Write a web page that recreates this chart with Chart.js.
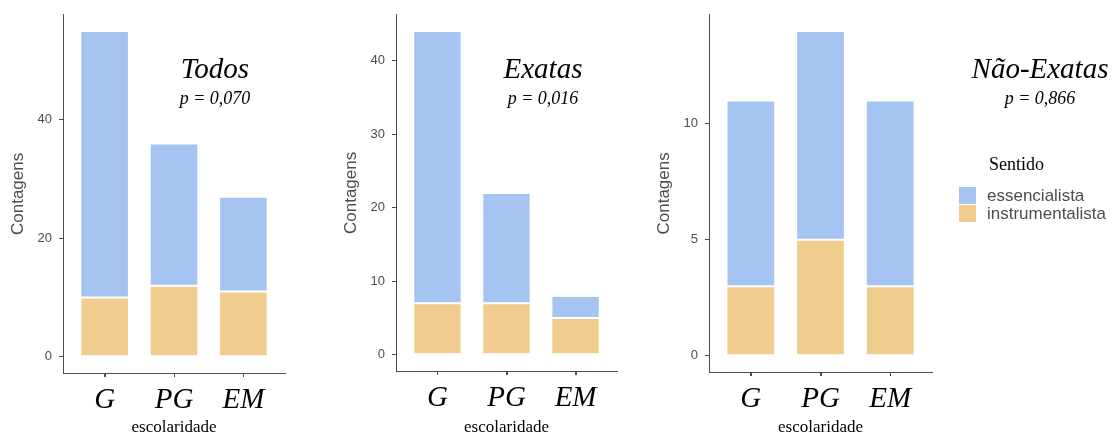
<!DOCTYPE html>
<html>
<head>
<meta charset="utf-8">
<script src="https://cdn.jsdelivr.net/npm/chart.js@4/dist/chart.umd.min.js"></script>
<style>
  body { margin: 0; background: #fff; width: 1118px; height: 436px; position: relative; overflow: hidden; }
  canvas { position: absolute; top: 0; }
</style>
</head>
<body>
<canvas id="todos" width="300" height="436" style="left:0px"></canvas>
<canvas id="exatas" width="300" height="436" style="left:333px"></canvas>
<canvas id="naoExatas" width="472" height="436" style="left:646px"></canvas>
<script>
// dados
const categories = ['G', 'PG', 'EM'];
const seriesNames = ['essencialista', 'instrumentalista'];

const todosEss = [45, 24, 16];
const todosInstr = [10, 12, 11];
const exatasEss = [37, 15, 3];
const exatasInstr = [7, 7, 5];
const naoExatasEss = [8, 9, 8];
const naoExatasInstr = [3, 5, 3];

const todosTicks = [0, 20, 40];
const exatasTicks = [0, 10, 20, 30, 40];
const naoExatasTicks = [0, 5, 10];

const panelTitles = ['Todos', 'Exatas', 'Não-Exatas'];
const pValues = ['p = 0,070', 'p = 0,016', 'p = 0,866'];
const legendTitle = 'Sentido';

const corEss = '#a6c4f1';
const corInstr = '#f0cd8e';
const cinza = '#4d4d4d';
const serif = '"Liberation Serif", "Times New Roman", serif';
const sans = '"Liberation Sans", Arial, sans-serif';

function textPlugin(title, p, cx, showLegend) {
  return {
    id: 'panelText',
    afterDraw(chart) {
      const ctx = chart.ctx;
      ctx.save();

      // marcas do eixo x nas categorias
      const xs = chart.scales.x;
      ctx.strokeStyle = cinza;
      ctx.lineWidth = 1;
      xs.ticks.forEach(function(t) {
        const px = Math.round(xs.getPixelForValue(t.value)) + 0.5;
        ctx.beginPath();
        ctx.moveTo(px, xs.top);
        ctx.lineTo(px, xs.top + 4);
        ctx.stroke();
      });

      ctx.fillStyle = '#000';
      ctx.textAlign = 'center';
      ctx.textBaseline = 'alphabetic';
      ctx.font = 'italic 29px ' + serif;
      ctx.fillText(title, cx, 78);
      ctx.font = 'italic 18px ' + serif;
      ctx.fillText(p, cx, 104);

      if (showLegend) {
        // legenda a partir dos datasets (ordem invertida)
        const items = chart.data.datasets.slice().reverse();
        const lx = 313, ly = 187;
        ctx.textAlign = 'left';
        ctx.font = '18px ' + serif;
        ctx.fillText(legendTitle, 343, 170);
        ctx.font = '17px ' + sans;
        ctx.textBaseline = 'middle';
        items.forEach(function(ds, i) {
          ctx.fillStyle = ds.backgroundColor;
          ctx.fillRect(lx, ly + i * 18, 17, 17);
          ctx.fillStyle = cinza;
          ctx.fillText(ds.label, lx + 28, ly + i * 18 + 9);
        });
      }
      ctx.restore();
    }
  };
}

function makePanel(id, ess, instr, ticks, idx, geom) {
  const totals = ess.map((v, i) => v + instr[i]);
  const top = Math.max.apply(null, totals);
  const toXY = arr => arr.map((v, i) => ({x: i + 1, y: v}));

  new Chart(document.getElementById(id), {
    type: 'bar',
    data: {
      datasets: [
        {label: seriesNames[1], data: toXY(instr), backgroundColor: corInstr,
         borderColor: 'rgba(255,255,255,0.5)', borderWidth: 1, borderSkipped: false},
        {label: seriesNames[0], data: toXY(ess), backgroundColor: corEss,
         borderColor: 'rgba(255,255,255,0.5)', borderWidth: 1, borderSkipped: false}
      ]
    },
    options: {
      responsive: false,
      animation: false,
      categoryPercentage: 0.7,
      barPercentage: 1,
      layout: {padding: {top: geom.top, right: geom.right, left: 0, bottom: 0}},
      plugins: {legend: {display: false}, tooltip: {enabled: false}},
      scales: {
        x: {
          type: 'linear',
          stacked: true,
          offset: false,
          min: 0.4,
          max: 3.6,
          afterBuildTicks: s => { s.ticks = categories.map((c, i) => ({value: i + 1})); },
          afterFit: s => { s.height = geom.xh; },
          grid: {offset: false, drawOnChartArea: false, drawTicks: true, tickLength: 4, color: cinza},
          border: {display: true, color: cinza, width: 1},
          ticks: {
            callback: v => categories[v - 1],
            autoSkip: false, maxRotation: 0,
            color: '#000', padding: 6,
            font: {family: serif, style: 'italic', size: 29, lineHeight: 1.2}
          },
          title: {display: true, text: 'escolaridade', color: '#000', padding: 0,
                  font: {family: serif, size: 17, lineHeight: 1}}
        },
        y: {
          stacked: true,
          min: -0.05 * top,
          max: 1.05 * top,
          afterBuildTicks: s => { s.ticks = ticks.map(v => ({value: v})); },
          afterFit: s => { s.width = 63; },
          grid: {drawOnChartArea: false, drawTicks: true, tickLength: 4, color: cinza},
          border: {display: true, color: cinza, width: 1},
          ticks: {color: cinza, padding: 7, font: {family: sans, size: 13}},
          title: {display: true, text: 'Contagens', color: cinza, padding: {top: 8, bottom: 0},
                  font: {family: sans, size: 17, lineHeight: 1.2}}
        }
      }
    },
    plugins: [textPlugin(panelTitles[idx], pValues[idx], geom.cx, idx === 2)]
  });
}

makePanel('todos', todosEss, todosInstr, todosTicks, 0, {top: 14, right: 15, xh: 63, cx: 215});
makePanel('exatas', exatasEss, exatasInstr, exatasTicks, 1, {top: 13, right: 16, xh: 65, cx: 210});
makePanel('naoExatas', naoExatasEss, naoExatasInstr, naoExatasTicks, 2, {top: 14, right: 186, xh: 64, cx: 394});
</script>
</body>
</html>
